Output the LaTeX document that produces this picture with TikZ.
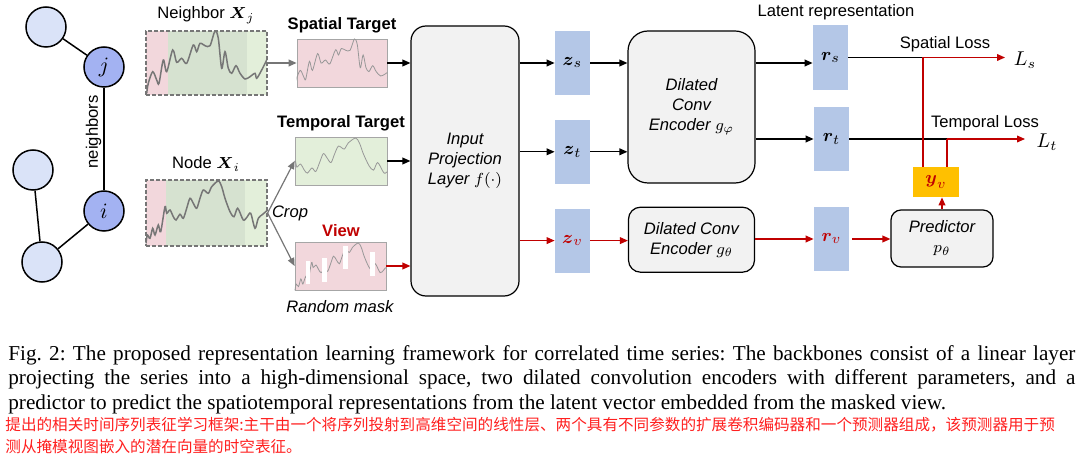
\documentclass[tikz,border=0pt]{standalone}
\usepackage{amsmath,amssymb}
\usepackage{fontspec}
\setmainfont{Liberation Serif}
\newfontfamily\arialf{Liberation Sans}
\newfontfamily\cjkf{Noto Sans CJK SC}
\usetikzlibrary{arrows.meta,positioning,backgrounds}
\definecolor{nodelight}{HTML}{DAE3F8}
\definecolor{nodedark}{HTML}{A3B2F2}
\definecolor{pinkc}{HTML}{F2D7DC}
\definecolor{greenc}{HTML}{D6E2D0}
\definecolor{lgreenc}{HTML}{E3EFDA}
\definecolor{vecblue}{HTML}{B4C7E7}
\definecolor{procfill}{HTML}{F2F2F2}
\definecolor{orangec}{HTML}{FFC000}
\definecolor{redc}{HTML}{C00000}
\definecolor{curvegray}{HTML}{767676}
\definecolor{boxgray}{HTML}{A6A6A6}
\definecolor{zhred}{HTML}{FF1F1F}
\newcommand{\nbrcurve}[1]{\draw[#1] plot[smooth, tension=0.5] coordinates {(146.7,93.3) (148.3,83.3) (152.7,71.7) (156.7,80) (159,83.3) (163.3,60) (166.7,71.7) (172.7,50) (176.7,62.3) (181.7,58.3) (186.7,63.3) (193.3,45) (196.7,51.7) (200,43.3) (205,45.7) (210,45.7) (215,31) (218.3,38.3) (221.7,68.3) (225,51.7) (228.3,68.3) (231.7,73.3) (236,65.7) (240,73.3) (245,79) (250,76.7) (255,73.3) (256.7,78.3) (261.7,70) (266.7,60)};}
\newcommand{\nodecurve}[1]{\draw[#1] plot[smooth, tension=0.5] coordinates {(146,243.3) (147.3,235) (150,238.3) (152.7,228.3) (155,235) (158.3,225) (160.7,231.7) (165,206.7) (166.7,213.3) (170,210) (173.3,216.7) (176,220) (180,214.3) (183.3,218.3) (186.7,208.3) (190,198.3) (193.3,203.3) (196.7,208.3) (200,198.3) (203.3,190) (208.3,193.3) (211.7,186.7) (218.3,181) (221.7,186.7) (225,198.3) (230,211.7) (234,216.7) (237.7,208.3) (243.3,220) (247.3,216.7) (250.7,213.3) (255,228.3) (258.3,218.3) (262.7,214.3) (267.7,210)};}

\begin{document}
\begin{tikzpicture}[
  x=0.5pt, y=-0.5pt,
  font=\arialf\fontsize{8.3}{10}\selectfont,
  gnode/.style={circle, draw=black, line width=0.75pt, minimum size=20pt, inner sep=0pt, fill=nodelight},
  gnodekey/.style={gnode, fill=nodedark, font=\fontsize{11}{13}\selectfont},
  edge/.style={line width=0.75pt},
  srcbox/.style={rectangle, draw=curvegray, dash pattern=on 2pt off 1pt, line width=0.6pt, minimum width=60.5pt, inner sep=0pt},
  tgtbox/.style={rectangle, draw=boxgray, line width=0.4pt, minimum width=45.5pt, minimum height=24pt, inner sep=0pt},
  procbox/.style={rectangle, draw=black, line width=0.6pt, fill=procfill, align=center, inner sep=0pt, font=\arialf\itshape\fontsize{8.3}{10}\selectfont},
  vecbox/.style={rectangle, fill=vecblue, minimum width=17.5pt, minimum height=32pt, inner sep=0pt, font=\fontsize{9.5}{11}\selectfont},
  sigline/.style={curvegray, line width=0.75pt},
  tgtline/.style={curvegray!75, line width=0.4pt},
  flow/.style={-{Triangle[length=4pt, width=3.4pt]}, line width=0.6pt},
  grayflow/.style={flow, curvegray},
  redflow/.style={flow, redc},
  redline/.style={line width=0.6pt, redc},
  lbl/.style={inner sep=1pt},
  lblbold/.style={lbl, font=\arialf\bfseries\fontsize{8.3}{10}\selectfont},
  lblit/.style={lbl, font=\arialf\itshape\fontsize{8.3}{10}\selectfont},
  mathlbl/.style={lbl, font=\fontsize{10}{12}\selectfont}
]
\useasboundingbox (0,0) rectangle (1088,470);

% graph of correlated series
\node[gnode] (g1) at (46,27) {};
\node[gnodekey] (gj) at (104,67) {$j$};
\node[gnode] (g2) at (33,170) {};
\node[gnodekey] (gi) at (104,211) {$i$};
\node[gnode] (g3) at (42,262) {};
\draw[edge] (g1) -- (gj);
\draw[edge] (gj) -- node[pos=0.45, rotate=90, above=1pt, lbl] {neighbors} (gi);
\draw[edge] (g2) -- (g3);
\draw[edge] (g3) -- (gi);

% input series
\node[srcbox, minimum height=32pt] (nbr) at (206.5,63) {};
\node[srcbox, minimum height=33pt] (nodex) at (206.5,213) {};
\begin{scope}[on background layer]
\fill[pinkc] (146,31) rectangle (168,95);
\fill[greenc] (168,31) rectangle (247,95);
\fill[lgreenc] (247,31) rectangle (267,95);
\fill[pinkc] (146,180) rectangle (166,246);
\fill[greenc] (166,180) rectangle (245,246);
\fill[lgreenc] (245,180) rectangle (267,246);
\end{scope}
\nbrcurve{sigline}
\nodecurve{sigline}
\node[lbl] (lblnbr) at (206,15) {Neighbor $\boldsymbol{X}_j$};
\node[lbl] (lblnode) at (206,164) {Node $\boldsymbol{X}_i$};

% targets and view
\node[tgtbox, fill=pinkc, minimum width=45pt] (spt) at (342,63) {};
\node[tgtbox, fill=lgreenc, minimum width=46pt] (tmp) at (341,161) {};
\node[tgtbox, fill=pinkc] (view) at (340.5,266) {};
\begin{scope}
\clip (spt.north west) rectangle (spt.south east);
\begin{scope}[shift={(297,39)}, xscale=0.87, yscale=0.77, shift={(-149,-31)}]
\nbrcurve{tgtline}
\end{scope}
\end{scope}
\begin{scope}
\clip (tmp.north west) rectangle (tmp.south east);
\begin{scope}[shift={(296,138)}, xscale=1.14, yscale=0.9, shift={(-166,-181)}]
\nodecurve{tgtline}
\end{scope}
\end{scope}
\begin{scope}
\clip (view.north west) rectangle (view.south east);
\begin{scope}[shift={(295,243)}, xscale=0.875, yscale=0.76, shift={(-146,-181)}]
\nodecurve{tgtline}
\end{scope}
\end{scope}
% random mask
\fill[white] (305.5,261) rectangle (310,284);
\fill[white] (322,258) rectangle (327,282);
\fill[white] (343,246) rectangle (348,269);
\fill[white] (370,252) rectangle (375,276);

\node[lblbold] (lblspt) at (342,25) {Spatial Target};
\node[lblbold] (lbltmp) at (341,123) {Temporal Target};
\node[lblbold, text=redc] (lblview) at (341,231) {View};
\node[lblit] (lblmask) at (340,307) {Random mask};
\node[lblit] (lblcrop) at (290,213) {Crop};

\draw[grayflow] (nbr.east) -- (spt.west);
\draw[grayflow] (nodex.east) -- (tmp.west);
\draw[grayflow] (nodex.east) -- (view.west);

% projection and encoders
\node[procbox, minimum width=54pt, minimum height=135pt, rounded corners=7.5pt] (inproj) at (465,161) {Input\\Projection\\Layer $f(\cdot)$};
\draw[flow] (spt.east) -- (spt.east -| inproj.west);
\draw[flow] (tmp.east) -- (tmp.east -| inproj.west);
\draw[redflow] (view.east) -- (view.east -| inproj.west);

\node[vecbox] (zs) at (572.5,63) {$\boldsymbol{z}_s$};
\node[vecbox, below=12pt of zs] (zt) {$\boldsymbol{z}_t$};
\node[vecbox, below=12pt of zt, text=redc] (zv) {$\boldsymbol{z}_v$};
\draw[flow] (inproj.east |- zs) -- (zs);
\draw[flow] (inproj.east |- zt) -- (zt);
\draw[redflow] (inproj.east |- zv) -- (zv);

\node[procbox, minimum width=63.5pt, minimum height=76pt, rounded corners=10pt] (gphi) at (691.5,107) {Dilated\\Conv\\Encoder $g_\varphi$};
\node[procbox, minimum width=63pt, minimum height=32.5pt, rounded corners=6pt, below=11.5pt of gphi] (gth) {Dilated Conv\\Encoder $g_\theta$};
\draw[flow] (zs) -- (zs -| gphi.west);
\draw[flow] (zt) -- (zt -| gphi.west);
\draw[redflow] (zv) -- (zv -| gth.west);

% latent representations
\node[vecbox, minimum height=32.5pt] (rs) at (830.5,57.5) {$\boldsymbol{r}_s$};
\node[vecbox] (rt) at (831.5,139) {$\boldsymbol{r}_t$};
\node[vecbox, text=redc] (rv) at (831.5,239) {$\boldsymbol{r}_v$};
\node[lbl] (lbllat) at (836,12) {Latent representation};
\draw[flow] (gphi.east |- zs) -- (rs.west |- zs);
\draw[flow] (gphi.east |- rt) -- (rt);
\draw[redflow] (gth.east |- rv) -- (rv);

% predictor and losses
\node[procbox, minimum width=51pt, minimum height=28.5pt, rounded corners=5pt] (pred) at (942,238.5) {Predictor\\$p_\theta$};
\node[rectangle, fill=orangec, minimum width=23pt, minimum height=15pt, inner sep=0pt, text=redc, font=\fontsize{9.5}{11}\selectfont] (yv) at (936,182) {$\boldsymbol{y}_v$};
\draw[redflow] ([xshift=1.5pt]rv.east) -- (pred.west |- rv.east);
\draw[redflow] (pred.north) -- (pred.north |- yv.south);

\coordinate (js) at (923,57.5);
\coordinate (jt) at (947,139);
\coordinate (ls) at (1005,57.5);
\coordinate (lt) at (1025,139);
\draw[line width=0.6pt] (rs.east) -- (js);
\draw[line width=0.6pt] (rt.east) -- (jt);
\draw[redline] (yv.north -| js) -- (js);
\draw[redline] (yv.north -| jt) -- (jt);
\draw[redflow] (js) -- (ls);
\draw[redflow] (jt) -- (lt);
\node[lbl] (lblsl) at (945,44) {Spatial Loss};
\node[lbl] (lbltl) at (985,123) {Temporal Loss};
\node[mathlbl] (lblls) at (1025,60) {$L_s$};
\node[mathlbl] (lbllt) at (1047,142) {$L_t$};

% caption
\node[anchor=north west, inner sep=0pt, text width=533.5pt, align=justify, font=\rmfamily\fontsize{10.6}{12.3}\selectfont\frenchspacing] (capen) at (8,345) {Fig.~2: The proposed representation learning framework for correlated time series: The backbones consist of a linear layer\linebreak projecting the series into a high-dimensional space, two dilated convolution encoders with different parameters, and a\linebreak predictor to predict the spatiotemporal representations from the latent vector embedded from the masked view.};
\node[anchor=north west, inner sep=0pt, align=left, text=zhred, font=\cjkf\fontsize{7.8}{11}\selectfont] (capzh) at (5,417) {提出的相关时间序列表征学习框架:主干由一个将序列投射到高维空间的线性层、两个具有不同参数的扩展卷积编码器和一个预测器组成，该预测器用于预\\测从掩模视图嵌入的潜在向量的时空表征。};
\end{tikzpicture}
\end{document}
